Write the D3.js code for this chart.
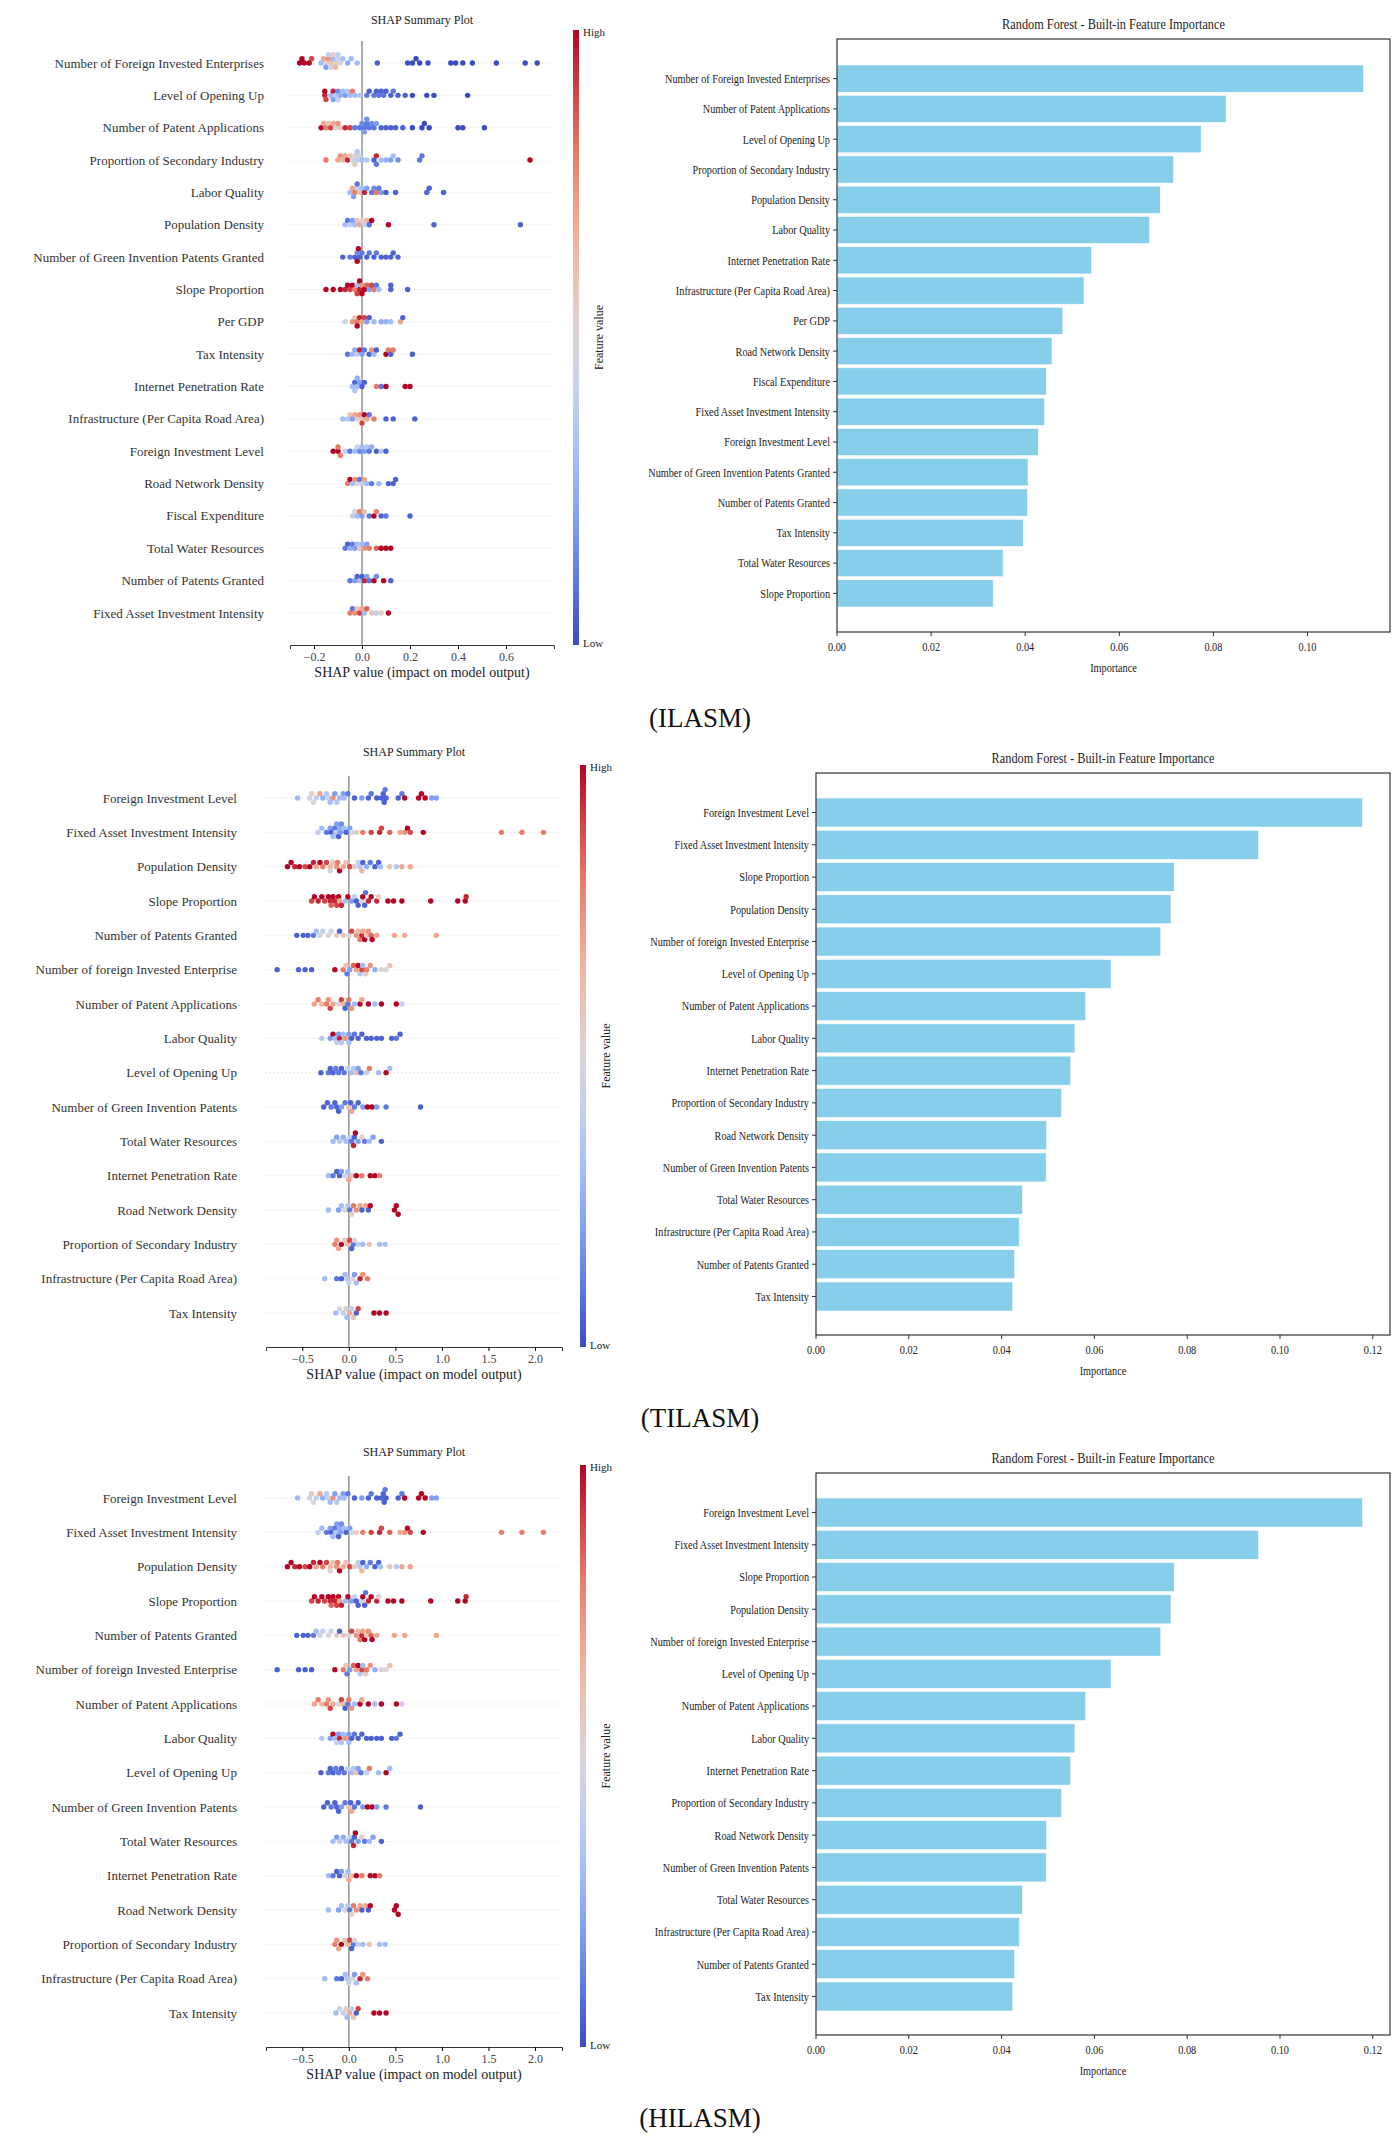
<!DOCTYPE html>
<html>
<head>
<meta charset="utf-8">
<script src="https://cdn.jsdelivr.net/npm/d3@7"></script>
<style>
  body { margin: 0; background: #fff; }
  text { font-family: "Liberation Serif", "DejaVu Serif", serif; fill: #222; }
</style>
</head>
<body>
<div class="vis"></div>
<script>
// ---------- data: ILASM ----------
const shapFeatures1 = [
  "Number of Foreign Invested Enterprises", "Level of Opening Up", "Number of Patent Applications",
  "Proportion of Secondary Industry", "Labor Quality", "Population Density",
  "Number of Green Invention Patents Granted", "Slope Proportion", "Per GDP", "Tax Intensity",
  "Internet Penetration Rate", "Infrastructure (Per Capita Road Area)", "Foreign Investment Level",
  "Road Network Density", "Fiscal Expenditure", "Total Water Resources",
  "Number of Patents Granted", "Fixed Asset Investment Intensity"
];
// each point: [shap value, normalised feature value]
const shapPoints1 = [
  [[-0.26,1],[-0.25,1],[-0.24,1],[-0.22,1],[-0.21,0.9],[-0.17,0.3],[-0.16,0.7],[-0.15,0.5],[-0.15,0.2],[-0.14,0.75],[-0.14,0.4],[-0.13,0.6],[-0.13,0.45],[-0.12,0.3],[-0.12,0.55],[-0.11,0.5],[-0.11,0.65],[-0.1,0.45],[-0.1,0.4],[-0.09,0.5],[-0.08,0.3],[-0.06,0.25],[-0.045,0.3],[-0.02,0.3],[0.064,0.05],[0.19,0.02],[0.21,0],[0.225,0],[0.24,0],[0.275,0],[0.37,0],[0.39,0],[0.42,0],[0.46,0],[0.56,0],[0.68,0],[0.73,0]],
  [[-0.155,0.95],[-0.155,1],[-0.15,0.9],[-0.12,0.95],[-0.13,0.3],[-0.12,0.2],[-0.11,0.35],[-0.1,0.15],[-0.1,0.4],[-0.09,0.25],[-0.08,0.3],[-0.07,0.2],[-0.06,0.35],[-0.05,0.3],[-0.04,0.8],[-0.03,0.3],[-0.01,0.35],[0.02,0.1],[0.03,0.05],[0.05,0.1],[0.06,0.05],[0.07,0.1],[0.08,0.05],[0.09,0.1],[0.1,0.05],[0.12,0.05],[0.13,0.1],[0.15,0.05],[0.18,0.05],[0.21,0],[0.27,0],[0.3,0],[0.44,0]],
  [[-0.17,1],[-0.16,0.7],[-0.15,0.8],[-0.14,0.6],[-0.13,0.9],[-0.12,0.7],[-0.11,0.5],[-0.1,0.75],[-0.09,0.6],[-0.07,0.95],[-0.05,0.9],[-0.03,0.1],[-0.01,0.1],[0,0.15],[0.01,0.1],[0.01,0.2],[0.02,0.1],[0.02,0.15],[0.03,0.1],[0.04,0.15],[0.05,0.1],[0.06,0.2],[0.08,0.05],[0.1,0.05],[0.12,0.05],[0.14,0.05],[0.17,0.05],[0.21,0],[0.25,0],[0.26,0],[0.28,0],[0.4,0],[0.42,0],[0.51,0]],
  [[-0.15,0.8],[-0.1,0.7],[-0.09,0.75],[-0.08,0.65],[-0.07,0.7],[-0.06,0.95],[-0.05,0.6],[-0.04,0.45],[-0.03,0.5],[-0.02,0.4],[-0.01,0.45],[-0.03,0.55],[-0.02,0.35],[0,0.3],[0.02,0.35],[0.05,0.05],[0.06,0.95],[0.06,0.1],[0.08,0.3],[0.1,0.25],[0.12,0.2],[0.13,0.3],[0.15,0.15],[0.24,0.1],[0.25,0.1],[0.7,1]],
  [[-0.05,0.3],[-0.04,0.7],[-0.035,0.2],[-0.03,0.8],[-0.02,0.4],[-0.02,0.1],[-0.01,0.6],[0,0.3],[0.01,0.95],[0.02,0.2],[0.04,0.1],[0.05,0.15],[0.06,0.8],[0.07,0.1],[0.08,0.2],[0.1,0.05],[0.14,0.05],[0.27,0.05],[0.28,0.05],[0.34,0.05]],
  [[-0.07,0.3],[-0.06,0.1],[-0.05,0.4],[-0.04,0.2],[-0.03,0.3],[-0.02,0.6],[-0.01,0.7],[0,0.55],[0.01,0.4],[0.02,0.65],[0.03,0.1],[0.04,1],[0.11,1],[0.3,0.05],[0.66,0.05]],
  [[-0.08,0.05],[-0.05,0.1],[-0.03,0.05],[-0.02,0.15],[-0.01,0.05],[-0.02,1],[-0.015,1],[0,0.1],[0.02,0.05],[0.03,0.1],[0.05,0.05],[0.06,0.1],[0.08,0.05],[0.1,0.05],[0.12,0.05],[0.13,0.05],[0.15,0.05]],
  [[-0.15,1],[-0.12,1],[-0.09,1],[-0.07,0.95],[-0.06,1],[-0.05,0.9],[-0.04,1],[-0.03,0.8],[-0.02,0.3],[-0.01,0.95],[0,0.75],[0.01,1],[0.02,0.85],[0.03,0.2],[0.04,0.9],[0.05,0.8],[0.06,0.1],[0.07,0.3],[0.12,0.05],[0.12,0.05],[0.19,0.05],[-0.02,0.9],[-0.01,1],[0,1]],
  [[-0.07,0.45],[-0.04,0.75],[-0.03,0.6],[-0.02,0.8],[-0.01,0.95],[0,0.7],[0.01,0.9],[0.02,0.2],[0.03,0.05],[0.05,0.3],[0.08,0.25],[0.1,0.25],[0.12,0.3],[0.16,0.7],[0.17,0.05],[-0.02,1]],
  [[-0.06,0.1],[-0.04,0.3],[-0.03,0.25],[-0.02,0.4],[-0.01,0.95],[0,0.2],[0.01,0.1],[0.03,0.05],[0.04,0.75],[0.05,0.3],[0.06,0.05],[0.1,1],[0.11,0.8],[0.12,0.05],[0.13,0.8],[0.21,0.05]],
  [[-0.04,0.3],[-0.03,0.05],[-0.02,0.3],[-0.01,0.2],[0,0.05],[0.01,0.05],[-0.03,0.35],[-0.02,0.25],[0.06,0.8],[0.08,0.1],[0.1,1],[0.18,1],[0.2,1]],
  [[-0.08,0.3],[-0.06,0.35],[-0.05,0.6],[-0.04,0.2],[-0.03,0.7],[-0.02,0.5],[-0.01,0.75],[0,0.6],[0.01,1],[0.02,0.7],[0.03,0.1],[0.05,0.8],[0.1,0.05],[0.13,0.05],[0.22,0.05],[0,0.9]],
  [[-0.12,1],[-0.1,1],[-0.09,0.8],[-0.1,0.8],[-0.07,0.4],[-0.05,0.1],[-0.03,0.3],[-0.02,0.45],[-0.01,0.15],[0,0.3],[0.01,0.2],[0.02,0.35],[0.03,0.1],[0.04,0.25],[0.06,0.05],[0.08,0.35],[0.1,0.05]],
  [[-0.06,0.8],[-0.05,1],[-0.04,0.3],[-0.03,0.75],[-0.02,0.5],[-0.01,0.1],[0,0.4],[0.01,0.7],[0.02,0.3],[0.04,0.1],[0.07,0.3],[0.11,0.05],[0.13,0.05],[0.14,0.05]],
  [[-0.04,0.4],[-0.03,0.5],[-0.02,0.3],[-0.01,0.8],[0,0.2],[0.01,0.6],[0.03,0.1],[0.05,1],[0.06,0.8],[0.08,0.05],[0.1,0.1],[0.2,0.05]],
  [[-0.07,0.1],[-0.06,0.05],[-0.05,0.25],[-0.04,0.1],[-0.03,0.2],[-0.02,0.3],[-0.01,0.6],[0,0.3],[0.01,0.75],[0.02,0.2],[0.03,0.8],[0.06,0.85],[0.08,1],[0.1,1],[0.12,1]],
  [[-0.05,0.1],[-0.03,0.2],[-0.02,0.05],[-0.01,0.3],[0,0.05],[0.01,0.95],[0.02,0.2],[0.03,0.1],[0.05,1],[0.06,0.15],[0.09,1],[0.12,0.05]],
  [[-0.05,0.8],[-0.04,0.1],[-0.03,0.75],[-0.02,0.6],[-0.01,0.9],[0,0.7],[0.01,0.3],[0.02,0.85],[0.04,0.6],[0.06,0.4],[0.08,0.55],[0.11,1]]
];
const barFeatures1 = [
  "Number of Foreign Invested Enterprises", "Number of Patent Applications", "Level of Opening Up",
  "Proportion of Secondary Industry", "Population Density", "Labor Quality", "Internet Penetration Rate",
  "Infrastructure (Per Capita Road Area)", "Per GDP", "Road Network Density", "Fiscal Expenditure",
  "Fixed Asset Investment Intensity", "Foreign Investment Level", "Number of Green Invention Patents Granted",
  "Number of Patents Granted", "Tax Intensity", "Total Water Resources", "Slope Proportion"
];
const barValues1 = [0.1119, 0.0827, 0.0774, 0.0715, 0.0687, 0.0664, 0.0541, 0.0525, 0.0480,
  0.0457, 0.0445, 0.0441, 0.0428, 0.0406, 0.0405, 0.0396, 0.0353, 0.0332];
const barTicks1 = [0, 0.02, 0.04, 0.06, 0.08, 0.10];

// ---------- data: TILASM / HILASM ----------
const shapFeatures2 = [
  "Foreign Investment Level", "Fixed Asset Investment Intensity", "Population Density", "Slope Proportion",
  "Number of Patents Granted", "Number of foreign Invested Enterprise", "Number of Patent Applications",
  "Labor Quality", "Level of Opening Up", "Number of Green Invention Patents", "Total Water Resources",
  "Internet Penetration Rate", "Road Network Density", "Proportion of Secondary Industry",
  "Infrastructure (Per Capita Road Area)", "Tax Intensity"
];
const shapPoints2 = [
  [[-0.55,0.3],[-0.42,0.45],[-0.38,0.5],[-0.35,0.4],[-0.4,0.55],[-0.31,0.7],[-0.28,0.25],[-0.24,0.35],[-0.22,0.4],[-0.2,0.3],[-0.17,0.75],[-0.15,0.2],[-0.13,0.35],[-0.1,0.3],[-0.06,0.2],[-0.05,0.3],[-0.01,0.1],[0.06,0.05],[0.14,0.2],[0.21,0.05],[0.24,0.1],[0.3,0.05],[0.35,0.05],[0.37,0.05],[0.38,0.05],[0.39,0.1],[0.4,0.05],[0.53,0.05],[0.57,0.1],[0.6,1],[0.75,1],[0.78,1],[0.82,1],[0.89,0.2],[0.94,0.2]],
  [[-0.33,0.4],[-0.29,0.3],[-0.24,0.1],[-0.2,0.2],[-0.19,0.05],[-0.17,0.3],[-0.15,0.1],[-0.14,0.35],[-0.13,0.2],[-0.11,0.05],[-0.1,0.25],[-0.09,0.2],[-0.08,0.15],[-0.05,0.3],[-0.03,0.05],[0.01,0.2],[0.03,0.45],[0.08,0.55],[0.15,0.8],[0.24,0.9],[0.33,0.95],[0.35,0.9],[0.44,0.85],[0.55,0.7],[0.6,0.75],[0.63,1],[0.66,0.9],[0.8,1],[1.64,0.8],[1.86,0.8],[2.09,0.8]],
  [[-0.66,1],[-0.62,1],[-0.58,0.95],[-0.53,1],[-0.47,0.9],[-0.42,1],[-0.38,0.95],[-0.35,0.7],[-0.31,1],[-0.28,0.8],[-0.24,0.9],[-0.2,0.65],[-0.2,0.5],[-0.17,0.6],[-0.13,0.75],[-0.12,0.8],[-0.1,1],[-0.06,0.7],[-0.03,0.6],[0.01,0.9],[0.06,0.55],[0.1,0.4],[0.12,0.35],[0.14,0.65],[0.15,0.05],[0.19,0.25],[0.23,0.1],[0.28,0.05],[0.32,0.05],[0.34,0.3],[0.44,0.6],[0.51,0.35],[0.57,0.7],[0.66,0.7]],
  [[-0.4,0.9],[-0.37,1],[-0.33,0.95],[-0.29,1],[-0.26,0.9],[-0.22,1],[-0.2,0.95],[-0.19,0.85],[-0.17,1],[-0.15,0.95],[-0.13,0.9],[-0.11,1],[-0.1,0.7],[-0.08,0.95],[-0.04,0.3],[-0.01,1],[0.03,0.2],[0.06,0.4],[0.08,0.05],[0.1,0.05],[0.14,0.5],[0.15,1],[0.17,0.05],[0.18,0.1],[0.21,0.95],[0.24,1],[0.3,0.95],[0.32,0.55],[0.42,1],[0.48,1],[0.57,1],[0.88,1],[1.17,1],[1.25,1],[1.26,0.95]],
  [[-0.56,0.05],[-0.49,0.05],[-0.44,0.05],[-0.38,0.1],[-0.35,0.3],[-0.31,0.45],[-0.28,0.4],[-0.22,0.5],[-0.19,0.45],[-0.13,0.55],[-0.1,0.05],[-0.06,0.6],[0,0.5],[0.03,0.9],[0.08,0.75],[0.1,0.65],[0.12,0.8],[0.14,0.95],[0.15,0.7],[0.17,1],[0.19,0.6],[0.21,0.75],[0.24,0.85],[0.25,1],[0.3,0.7],[0.49,0.7],[0.6,0.7],[0.94,0.7]],
  [[-0.77,0.05],[-0.54,0.05],[-0.47,0.05],[-0.4,0.05],[-0.15,1],[-0.06,0.8],[-0.03,0.6],[-0.02,0.1],[0.01,0.2],[0.05,0.85],[0.08,0.7],[0.1,1],[0.12,0.35],[0.14,0.9],[0.15,0.3],[0.18,0.55],[0.19,0.8],[0.23,0.75],[0.28,0.25],[0.35,0.5],[0.4,0.5],[0.44,0.6]],
  [[-0.37,0.7],[-0.33,0.8],[-0.29,0.65],[-0.24,0.8],[-0.22,0.75],[-0.2,0.9],[-0.17,0.7],[-0.11,0.5],[-0.08,0.9],[-0.06,0.65],[-0.04,0.05],[-0.01,0.1],[0,0.8],[0.03,0.75],[0.06,0.3],[0.12,1],[0.14,0.7],[0.21,1],[0.28,0.3],[0.35,1],[0.51,1],[0.57,0.4]],
  [[-0.29,0.35],[-0.2,0.2],[-0.17,1],[-0.15,0.3],[-0.13,0.4],[-0.11,0.2],[-0.1,0.95],[-0.08,0.35],[-0.06,0.3],[-0.04,0.75],[0,0.2],[0,0.3],[0.03,0.05],[0.06,0.1],[0.1,0.05],[0.14,0.05],[0.19,0.05],[0.24,0.05],[0.3,0.05],[0.35,0.05],[0.46,0.05],[0.51,0.1],[0.55,0.05]],
  [[-0.3,0.05],[-0.22,0.1],[-0.2,0.05],[-0.17,0.05],[-0.14,0.1],[-0.11,0.1],[-0.08,0.05],[-0.05,0.1],[-0.01,0.4],[0.03,0.3],[0.05,0.35],[0.08,0.6],[0.1,0.2],[0.13,0.1],[0.19,0.4],[0.22,0.8],[0.32,0.3],[0.4,1],[0.44,0.3]],
  [[-0.27,0.05],[-0.23,0.05],[-0.19,0.1],[-0.15,0.05],[-0.13,0.05],[-0.11,0.05],[-0.08,0.2],[-0.04,0.1],[0,0.6],[0.02,0.05],[0.03,0.7],[0.06,0.1],[0.1,0.05],[0.15,0.2],[0.2,1],[0.25,1],[0.3,0.2],[0.4,0.1],[0.77,0.05]],
  [[-0.17,0.3],[-0.13,0.2],[-0.1,0.35],[-0.06,0.25],[-0.03,0.3],[0.01,0.4],[0.03,0.1],[0.05,0.95],[0.06,0.05],[0.07,1],[0.1,0.2],[0.14,0.55],[0.17,0.1],[0.22,0.3],[0.26,0.2],[0.35,0.05]],
  [[-0.22,0.3],[-0.17,0.1],[-0.13,0.05],[-0.1,0.05],[-0.08,0.2],[-0.04,0.45],[-0.01,0.3],[0,0.7],[0.03,0.6],[0.08,1],[0.14,0.8],[0.23,1],[0.28,1],[0.33,0.8]],
  [[-0.22,0.3],[-0.11,0.2],[-0.08,0.3],[-0.04,0.5],[-0.01,0.35],[0.01,0.1],[0.03,0.55],[0.05,0.8],[0.08,0.75],[0.12,0.7],[0.14,0.05],[0.18,0.7],[0.21,0.05],[0.23,1],[0.49,1],[0.51,1],[0.53,1]],
  [[-0.15,0.8],[-0.13,0.75],[-0.11,0.7],[-0.08,1],[-0.04,0.6],[-0.01,0.65],[0.01,0.9],[0.03,0.05],[0.05,0.1],[0.06,0.5],[0.1,0.4],[0.15,0.3],[0.22,0.6],[0.33,0.3],[0.39,0.3]],
  [[-0.26,0.3],[-0.13,0.1],[-0.08,0.05],[-0.04,0.3],[-0.02,0.35],[0,0.4],[0.04,0.5],[0.06,0.2],[0.08,0.3],[0.12,0.95],[0.15,0.75],[0.2,0.8]],
  [[-0.14,0.3],[-0.1,0.45],[-0.06,0.4],[-0.03,0.55],[-0.02,0.3],[0.01,0.7],[0.03,0.4],[0.05,0.6],[0.08,0.05],[0.1,0.9],[0.27,1],[0.33,1],[0.4,1]]
];
const barFeatures2 = [
  "Foreign Investment Level", "Fixed Asset Investment Intensity", "Slope Proportion", "Population Density",
  "Number of foreign Invested Enterprise", "Level of Opening Up", "Number of Patent Applications",
  "Labor Quality", "Internet Penetration Rate", "Proportion of Secondary Industry", "Road Network Density",
  "Number of Green Invention Patents", "Total Water Resources", "Infrastructure (Per Capita Road Area)",
  "Number of Patents Granted", "Tax Intensity"
];
const barValues2 = [0.1178, 0.0954, 0.0772, 0.0765, 0.0743, 0.0636, 0.0581, 0.0558, 0.0549,
  0.0529, 0.0497, 0.0496, 0.0445, 0.0438, 0.0428, 0.0424];
const barTicks2 = [0, 0.02, 0.04, 0.06, 0.08, 0.10, 0.12];

const shapTicks1 = [-0.2, 0, 0.2, 0.4, 0.6];
const shapTicks2 = [-0.5, 0, 0.5, 1.0, 1.5, 2.0];
const panelNames = ["(ILASM)", "(TILASM)", "(HILASM)"];

// ---------- drawing ----------
const W = 1400, H = 2142;
const svg = d3.select(".vis").append("svg").attr("width", W).attr("height", H);
const coolwarm = d3.interpolateRgbBasis(["#3b4cc0", "#7396f5", "#b0cbfc", "#dddddd", "#f6b599", "#e7735a", "#b40426"]);

const defs = svg.append("defs");
const grad = defs.append("linearGradient").attr("id", "cw").attr("x1", 0).attr("y1", 1).attr("x2", 0).attr("y2", 0);
d3.range(0, 1.01, 0.1).forEach(t => grad.append("stop").attr("offset", t).attr("stop-color", coolwarm(t)));

function drawShap(cfg, features, points, ticks) {
  const g = svg.append("g");
  const x = d3.scaleLinear().domain(cfg.domain).range([cfg.x0, cfg.x1]);
  const y = d3.scalePoint().domain(features).range([cfg.yTop, cfg.yBot]);

  g.append("text").attr("x", (cfg.x0 + cfg.x1) / 2).attr("y", cfg.titleY)
    .attr("text-anchor", "middle").style("font-size", "12px").text("SHAP Summary Plot");

  // dotted row guides
  features.forEach(f => {
    g.append("line").attr("x1", cfg.x0).attr("x2", cfg.x1).attr("y1", y(f)).attr("y2", y(f))
      .attr("stroke", "#ccc").attr("stroke-width", 0.8).attr("stroke-dasharray", "1,3");
    g.append("text").attr("x", cfg.labelX).attr("y", y(f)).attr("dy", "0.35em")
      .attr("text-anchor", "end").style("font-size", "13px").style("fill", "#333").text(f);
  });

  g.append("line").attr("x1", x(0)).attr("x2", x(0)).attr("y1", cfg.yTop - 22).attr("y2", cfg.axisY)
    .attr("stroke", "#999").attr("stroke-width", 1.6);

  // simple beeswarm
  const r = 2.7, step = 4.2;
  features.forEach((f, i) => {
    const pts = points[i].map(p => ({ px: x(p[0]), v: p[1] })).sort((a, b) => a.px - b.px);
    const placed = [];
    pts.forEach(p => {
      let k = 0, off = 0;
      while (true) {
        off = (k % 2 === 0 ? 1 : -1) * Math.ceil(k / 2) * step;
        const hit = placed.some(q => Math.abs(q.px - p.px) < r * 1.7 && Math.abs(q.off - off) < step * 0.9);
        if (!hit || k > 8) break;
        k++;
      }
      p.off = off;
      placed.push(p);
    });
    g.selectAll(null).data(placed).enter().append("circle")
      .attr("cx", d => d.px).attr("cy", d => y(f) + d.off).attr("r", r)
      .attr("fill", d => coolwarm(d.v));
  });

  const ax = g.append("g").attr("transform", `translate(0,${cfg.axisY})`)
    .call(d3.axisBottom(x).tickValues(ticks).tickSize(4).tickFormat(d3.format(".1f")));
  ax.select(".domain").attr("stroke", "#333");
  ax.selectAll("text").style("font-size", "12px").style("font-family", "Liberation Serif").style("fill", "#444");
  g.append("text").attr("x", (cfg.x0 + cfg.x1) / 2).attr("y", cfg.axisY + 32)
    .attr("text-anchor", "middle").style("font-size", "14px").text("SHAP value (impact on model output)");

  // colorbar
  g.append("rect").attr("x", cfg.cbX).attr("y", cfg.yTop - 33).attr("width", 6)
    .attr("height", cfg.axisY - cfg.yTop + 33).attr("fill", "url(#cw)");
  g.append("text").attr("x", cfg.cbX + 10).attr("y", cfg.yTop - 27).style("font-size", "11px").text("High");
  g.append("text").attr("x", cfg.cbX + 10).attr("y", cfg.axisY + 2).style("font-size", "11px").text("Low");
  const my = (cfg.yTop - 33 + cfg.axisY) / 2;
  g.append("text").attr("transform", `translate(${cfg.cbX + 30},${my}) rotate(-90)`)
    .attr("text-anchor", "middle").style("font-size", "12px").text("Feature value");
}

function drawBars(cfg, features, values, ticks) {
  const g = svg.append("g");
  const x = d3.scaleLinear().domain(cfg.domain).range([cfg.x0, cfg.x0 + (cfg.x1 - cfg.x0) * 0]);
  x.range([cfg.x0, cfg.x0 + cfg.pxPerUnit * (cfg.domain[1] - cfg.domain[0])]);
  const y = d3.scaleBand().domain(features).range([cfg.bandTop, cfg.bandBot]).paddingInner(0.1);

  g.selectAll(null).data(features).enter().append("rect")
    .attr("x", x(0)).attr("y", d => y(d)).attr("height", y.bandwidth())
    .attr("width", (d, i) => x(values[i]) - x(0))
    .attr("fill", "#87ceeb").attr("stroke", "#fff").attr("stroke-width", 0.6);

  g.append("rect").attr("x", cfg.x0).attr("y", cfg.y0).attr("width", cfg.x1 - cfg.x0)
    .attr("height", cfg.y1 - cfg.y0).attr("fill", "none").attr("stroke", "#333").attr("stroke-width", 1.2);

  features.forEach(f => {
    const cy = y(f) + y.bandwidth() / 2;
    g.append("line").attr("x1", cfg.x0 - 4).attr("x2", cfg.x0).attr("y1", cy).attr("y2", cy).attr("stroke", "#333");
    g.append("text").attr("transform", `translate(${cfg.x0 - 7},${cy}) scale(0.82,1)`)
      .attr("dy", "0.35em").attr("text-anchor", "end").style("font-size", "12.5px").text(f);
  });
  ticks.forEach(t => {
    g.append("line").attr("x1", x(t)).attr("x2", x(t)).attr("y1", cfg.y1).attr("y2", cfg.y1 + 4).attr("stroke", "#333");
    g.append("text").attr("transform", `translate(${x(t)},${cfg.y1 + 19}) scale(0.82,1)`)
      .attr("text-anchor", "middle").style("font-size", "12.5px").text(d3.format(".2f")(t));
  });
  g.append("text").attr("transform", `translate(${(cfg.x0 + cfg.x1) / 2},${cfg.y1 + 40}) scale(0.82,1)`)
    .attr("text-anchor", "middle").style("font-size", "12.5px").text("Importance");
  g.append("text").attr("transform", `translate(${(cfg.x0 + cfg.x1) / 2},${cfg.titleY}) scale(0.82,1)`)
    .attr("text-anchor", "middle").style("font-size", "15px").text("Random Forest - Built-in Feature Importance");
}

drawShap({ domain: [-0.3, 0.8], x0: 290, x1: 554, yTop: 63, yBot: 613, axisY: 645, titleY: 24,
  labelX: 264, cbX: 573 }, shapFeatures1, shapPoints1, shapTicks1);
drawBars({ domain: [0, 0.1175], x0: 837, x1: 1390, y0: 39, y1: 632, bandTop: 65, bandBot: 607,
  pxPerUnit: 4705, titleY: 29 }, barFeatures1, barValues1, barTicks1);

[0, 700].forEach(dy => {
  drawShap({ domain: [-0.89, 2.29], x0: 266, x1: 562, yTop: 798 + dy, yBot: 1313 + dy, axisY: 1347 + dy,
    titleY: 756 + dy, labelX: 237, cbX: 580 }, shapFeatures2, shapPoints2, shapTicks2);
  drawBars({ domain: [0, 0.1237], x0: 816, x1: 1390, y0: 773 + dy, y1: 1335 + dy, bandTop: 798 + dy,
    bandBot: 1311 + dy, pxPerUnit: 4640, titleY: 763 + dy }, barFeatures2, barValues2, barTicks2);
});

panelNames.forEach((n, i) => {
  svg.append("text").attr("x", 700).attr("y", 727 + i * 700).attr("text-anchor", "middle")
    .style("font-size", "27px").style("fill", "#111").text(n);
});
</script>
</body>
</html>
